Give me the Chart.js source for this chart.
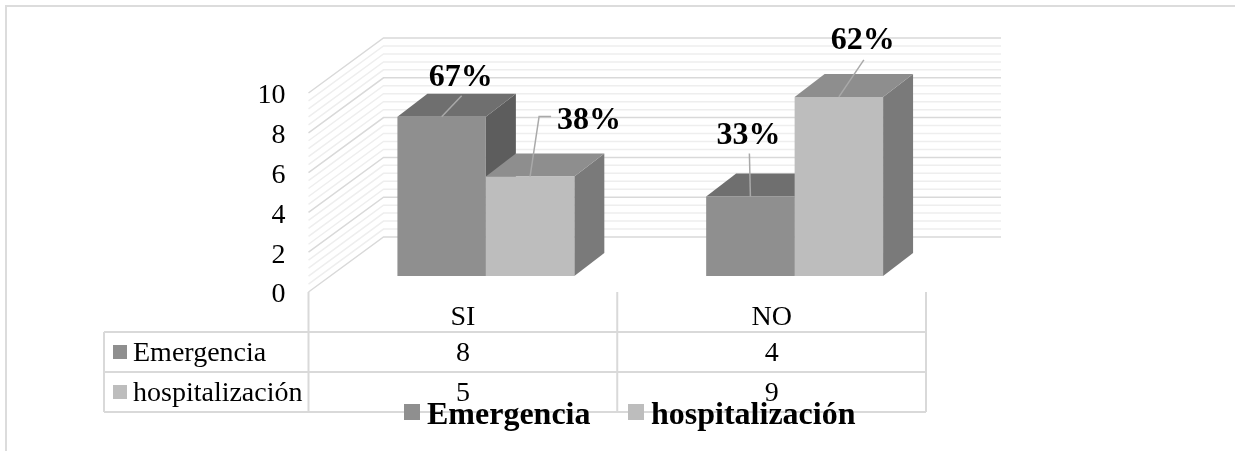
<!DOCTYPE html>
<html>
<head>
<meta charset="utf-8">
<title>Emergencia / hospitalización</title>
<script src="https://cdn.jsdelivr.net/npm/chart.js@4"></script>
<style>
	html, body { margin: 0; padding: 0; background: #fff; }
	canvas { display: block; }
</style>
</head>
<body>
<canvas id="chart3d" width="1235" height="451"></canvas>
<script>
const categories = ['SI', 'NO'];
const emergencia = [8, 4];
const hospitalizacion = [5, 9];
const emergenciaPct = ['67%', '33%'];
const hospitalizacionPct = ['38%', '62%'];
const seriesNames = ['Emergencia', 'hospitalización'];

const FONT = '"Liberation Serif", "Times New Roman", serif';
const LINE_MAJOR = '#d9d9d9';
const LINE_MINOR = '#eeeeee';

// front, top and side colours of each series
const faces = [
	{ front: '#8f8f8f', top: '#6f6f6f', side: '#5d5d5d' },
	{ front: '#bdbdbd', top: '#8e8e8e', side: '#7a7a7a' }
];

// the walls sit this far behind the front of the floor
const WALL = { dx: 75, dy: -55 };
// bars stand part way into the floor and have their own depth
const BAR_SHIFT = { x: 23, y: -16 };
const BAR_DEPTH = { x: 30, y: -23 };

// leader lines and label centres, relative to the top middle of the bar
const callouts = [
	[
		{ line: [[20, -21]], label: [19, -39] },
		{ line: [[-1, -43]], label: [-2, -61] }
	],
	[
		{ line: [[9, -60], [21, -60]], label: [59, -56] },
		{ line: [[25, -37]], label: [24, -56] }
	]
];

function strokeLine(ctx, points, color, width) {
	ctx.beginPath();
	points.forEach((p, i) => i ? ctx.lineTo(p[0], p[1]) : ctx.moveTo(p[0], p[1]));
	ctx.strokeStyle = color;
	ctx.lineWidth = width;
	ctx.stroke();
}

function fillPoly(ctx, points, color) {
	ctx.beginPath();
	points.forEach((p, i) => i ? ctx.lineTo(p[0], p[1]) : ctx.moveTo(p[0], p[1]));
	ctx.closePath();
	ctx.fillStyle = color;
	ctx.fill();
}

function drawWalls(chart) {
	const { ctx, chartArea, scales } = chart;
	// minor lines first so the major ones stay on top
	for (let i = 0; i <= 25; i++) {
		if (i % 5 === 0) continue;
		const y = scales.y.getPixelForValue(i * 0.4);
		strokeLine(ctx, [
			[chartArea.left, y],
			[chartArea.left + WALL.dx, y + WALL.dy],
			[chartArea.right + WALL.dx, y + WALL.dy]
		], LINE_MINOR, 1.5);
	}
	scales.y.ticks.forEach((t) => {
		const y = scales.y.getPixelForValue(t.value);
		strokeLine(ctx, [
			[chartArea.left, y],
			[chartArea.left + WALL.dx, y + WALL.dy],
			[chartArea.right + WALL.dx, y + WALL.dy]
		], LINE_MAJOR, 1.5);
	});
}

function drawBarDepth(chart) {
	const ctx = chart.ctx;
	const d = BAR_DEPTH;
	chart.data.datasets.forEach((ds, s) => {
		chart.getDatasetMeta(s).data.forEach((bar) => {
			const l = bar.x - bar.width / 2;
			const r = bar.x + bar.width / 2;
			fillPoly(ctx, [[r, bar.y], [r + d.x, bar.y + d.y], [r + d.x, bar.base + d.y], [r, bar.base]], faces[s].side);
			fillPoly(ctx, [[l, bar.y], [l + d.x, bar.y + d.y], [r + d.x, bar.y + d.y], [r, bar.y]], faces[s].top);
		});
	});
}

function drawCallouts(chart) {
	const ctx = chart.ctx;
	const texts = [emergenciaPct, hospitalizacionPct];
	ctx.textAlign = 'center';
	ctx.textBaseline = 'middle';
	chart.data.datasets.forEach((ds, s) => {
		chart.getDatasetMeta(s).data.forEach((bar, i) => {
			const x = bar.x + BAR_SHIFT.x;
			const y = bar.y + BAR_SHIFT.y;
			const c = callouts[s][i];
			const pts = [[x, y]].concat(c.line.map((p) => [x + p[0], y + p[1]]));
			strokeLine(ctx, pts, '#a9a9a9', 1.5);
			ctx.font = 'bold 32px ' + FONT;
			ctx.fillStyle = '#000';
			ctx.fillText(texts[s][i], x + c.label[0], y + c.label[1]);
		});
	});
}

function drawDataTable(chart) {
	const { ctx, chartArea, scales } = chart;
	const rows = [emergencia, hospitalizacion];
	const headTop = chartArea.bottom;
	const rowTop = 332;
	const rowH = 40;
	const tableLeft = 104;
	const colW = (chartArea.right - chartArea.left) / categories.length;

	for (let r = 0; r <= rows.length; r++) {
		const y = rowTop + r * rowH;
		strokeLine(ctx, [[tableLeft, y], [chartArea.right, y]], LINE_MAJOR, 2);
	}
	strokeLine(ctx, [[tableLeft, rowTop], [tableLeft, rowTop + 2 * rowH]], LINE_MAJOR, 2);
	for (let c = 0; c <= categories.length; c++) {
		const x = chartArea.left + c * colW;
		strokeLine(ctx, [[x, headTop], [x, rowTop + 2 * rowH]], LINE_MAJOR, 2);
	}

	ctx.font = '28px ' + FONT;
	ctx.fillStyle = '#000';
	ctx.textBaseline = 'middle';
	rows.forEach((values, r) => {
		const mid = rowTop + r * rowH + rowH / 2;
		ctx.fillStyle = faces[r].front;
		ctx.fillRect(113, mid - 7, 14, 14);
		ctx.fillStyle = '#000';
		ctx.textAlign = 'left';
		ctx.fillText(seriesNames[r], 133, mid + 2);
		ctx.textAlign = 'center';
		values.forEach((v, c) => ctx.fillText(String(v), scales.x.getPixelForValue(c), mid + 2));
	});
}

function drawLegend(chart) {
	const ctx = chart.ctx;
	const entries = [{ box: 404, text: 427 }, { box: 628, text: 651 }];
	ctx.font = 'bold 32px ' + FONT;
	ctx.textAlign = 'left';
	ctx.textBaseline = 'middle';
	entries.forEach((e, i) => {
		ctx.fillStyle = faces[i].front;
		ctx.fillRect(e.box, 404, 16, 16);
		ctx.fillStyle = '#000';
		ctx.fillText(seriesNames[i], e.text, 416);
	});
}

const bars3d = {
	id: 'bars3d',
	beforeDatasetsDraw(chart) {
		const ctx = chart.ctx;
		// outer frame, open on the right and at the bottom
		strokeLine(ctx, [[6, chart.height], [6, 6], [chart.width, 6]], '#dcdcdc', 2);
		drawWalls(chart);
		ctx.save();
		ctx.translate(BAR_SHIFT.x, BAR_SHIFT.y);
		drawBarDepth(chart);
	},
	afterDatasetsDraw(chart) {
		chart.ctx.restore();
		drawCallouts(chart);
		drawDataTable(chart);
		drawLegend(chart);
	}
};

const barData = {
	labels: categories,
	datasets: [
		{ label: seriesNames[0], data: emergencia, backgroundColor: faces[0].front, clip: false },
		{ label: seriesNames[1], data: hospitalizacion, backgroundColor: faces[1].front, clip: false }
	]
};

new Chart(document.getElementById('chart3d'), {
	type: 'bar',
	data: barData,
	plugins: [bars3d],
	options: {
		responsive: false,
		animation: false,
		categoryPercentage: 0.573,
		barPercentage: 1,
		layout: { padding: { left: 248.5, right: 309, top: 93, bottom: 119 } },
		plugins: {
			legend: { display: false },
			tooltip: { enabled: false }
		},
		scales: {
			x: {
				afterFit: (s) => { s.height = 40; },
				grid: { display: false },
				border: { display: false },
				ticks: { padding: 1, color: '#000', font: { family: FONT, size: 28 } }
			},
			y: {
				min: 0,
				max: 10,
				afterFit: (s) => { s.width = 60; },
				grid: { display: false },
				border: { display: false },
				ticks: { stepSize: 2, padding: 15, labelOffset: 3, color: '#000', font: { family: FONT, size: 28 } }
			}
		}
	}
});
</script>
</body>
</html>
